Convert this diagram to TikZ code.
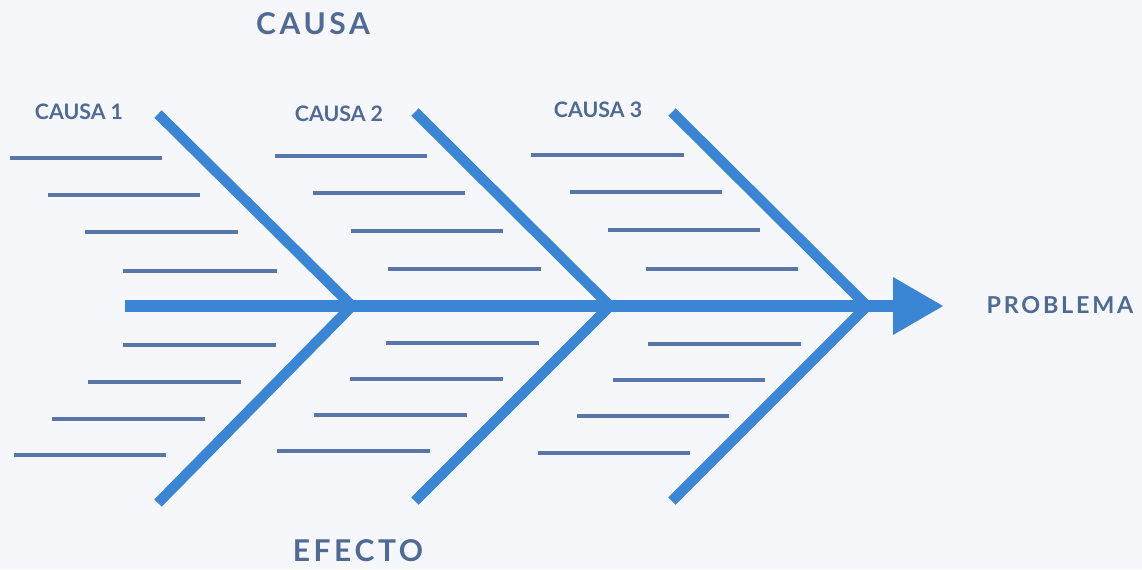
\documentclass[tikz,border=0pt]{standalone}
\usepackage{fontspec}
\setmainfont{Lato}
\newfontfamily\titlefont[LetterSpace=12]{Lato Bold}
\newfontfamily\labfont{Lato Bold}
\definecolor{bone}{HTML}{3A86D4}
\definecolor{rib}{HTML}{5877A8}
\definecolor{txt}{HTML}{4F6A94}
\definecolor{bg}{HTML}{F6F7FA}
\tikzset{
  spine/.style={draw=bone, line width=9pt},
  bonestyle/.style={draw=bone, line width=7.8pt},
  ribstyle/.style={draw=rib, line width=2.5pt},
  bigtitle/.style={text=txt, font=\titlefont\fontsize{22.5}{26}\selectfont, inner sep=0pt},
  causelab/.style={text=txt, font=\labfont\fontsize{16}{18}\selectfont, inner sep=0pt},
}
\begin{document}
\begin{tikzpicture}[x=0.75pt,y=-0.75pt]
\fill[bg] (0,0) rectangle (1142,569);
\useasboundingbox (0,0) rectangle (1142,569);
% titles
\node[bigtitle] (causa) at (313,24) {CAUSA};
\node[bigtitle] (efecto) at (358,551) {EFECTO};
\node[bigtitle, font=\titlefont\fontsize{17.5}{20}\selectfont] (problema) at (1060,305) {PROBLEMA};
\node[causelab] (c1) at (79,112) {CAUSA 1};
\node[causelab] (c2) at (339,114) {CAUSA 2};
\node[causelab] (c3) at (598,110) {CAUSA 3};
% spine
\coordinate (s0) at (125,306);
\coordinate (s1) at (895,306);
\coordinate (j1) at (352,306);
\coordinate (j2) at (610,306);
\coordinate (j3) at (867,306);
\draw[spine] (s0) -- (s1);
\fill[bone] (893,277) -- (943,306) -- (893,335) -- cycle;
% bones
\coordinate (u1) at (158,114);
\coordinate (u2) at (415,112);
\coordinate (u3) at (672,112);
\coordinate (l1) at (158,503);
\coordinate (l2) at (415,501);
\coordinate (l3) at (672,501);
\draw[bonestyle] (u1) -- (j1) -- (l1);
\draw[bonestyle] (u2) -- (j2) -- (l2);
\draw[bonestyle] (u3) -- (j3) -- (l3);
% ribs
\foreach \y/\a/\b in {158/10/162, 195/48/200, 232/85/238, 271/123/277,
                      345/123/276, 382/88/241, 419/52/205, 455/14/166,
                      156/275/427, 193/313/465, 231/351/503, 269/388/541,
                      343/386/539, 379/350/503, 415/314/467, 451/277/430,
                      155/531/684, 192/570/722, 230/608/760, 269/646/798,
                      344/648/801, 380/613/765, 416/577/729, 453/538/690}
  \draw[ribstyle] (\a,\y) -- (\b,\y);
\end{tikzpicture}
\end{document}
